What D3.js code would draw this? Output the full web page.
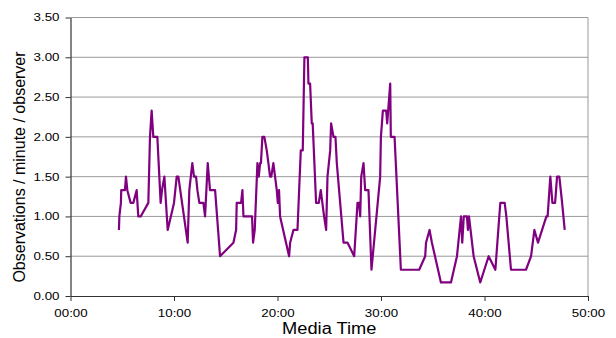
<!DOCTYPE html>
<html>
<head>
<meta charset="utf-8">
<style>
  body { margin: 0; background: #fff; }
  text { font-family: "Liberation Sans", Arial, sans-serif; fill: #000; }
</style>
</head>
<body>
<svg id="chart"></svg>
<script src="https://d3js.org/d3.v7.min.js"></script>
<script>
// media time in minutes
const minutes = [4.68, 4.72, 4.87, 4.9, 5.26, 5.36, 5.49, 5.81, 6.07, 6.39, 6.55, 6.78, 7.52, 7.68, 7.84, 8.0, 8.39,
  8.71, 8.84, 9.07, 9.39, 10.0, 10.26, 10.42, 11.32, 11.48, 11.77, 11.93, 12.13, 12.26, 12.45, 12.84, 13.0, 13.26,
  13.48, 13.97, 14.45, 15.74, 16.0, 16.06, 16.48, 16.61, 16.71, 17.54, 17.64, 17.8, 18.06, 18.19, 18.32, 18.4,
  18.54, 18.73, 18.96, 19.12, 19.28, 19.4, 19.6, 19.93, 20.03, 20.15, 20.25, 21.12, 21.22, 21.54, 21.93, 22.25,
  22.44, 22.6, 22.93, 22.99, 23.15, 23.31, 23.4, 23.73, 23.99, 24.18, 24.5, 24.7, 24.83, 25.09, 25.18, 25.41, 25.6,
  25.73, 26.38, 26.77, 27.41, 27.73, 27.88, 27.99, 28.09, 28.31, 28.47, 28.79, 29.08, 29.92, 29.99, 30.09, 30.18,
  30.5, 30.6, 30.89, 30.95, 31.31, 31.92, 33.69, 34.27, 34.35, 34.69, 34.92, 35.79, 36.76, 37.34, 37.73, 37.85,
  38.0, 38.3, 38.4, 38.5, 38.95, 39.59, 40.4, 41.05, 41.43, 41.53, 41.95, 42.11, 42.56, 44.01, 44.5, 44.82, 45.17,
  45.98, 46.1, 46.36, 46.56, 46.82, 47.01, 47.23, 47.5, 47.75];
const rate = [0.83, 1.0, 1.17, 1.33, 1.33, 1.5, 1.33, 1.17, 1.17, 1.33, 1.0, 1.0, 1.17, 2.0, 2.33, 2.0, 2.0,
  1.17, 1.33, 1.5, 0.83, 1.17, 1.5, 1.5, 0.67, 1.33, 1.67, 1.5, 1.5, 1.33, 1.17, 1.17, 1.0, 1.67,
  1.33, 1.33, 0.5, 0.67, 0.83, 1.17, 1.17, 1.33, 1.0, 1.0, 0.67, 0.83, 1.67, 1.5, 1.67, 1.67,
  2.0, 2.0, 1.83, 1.67, 1.5, 1.5, 1.67, 1.33, 1.17, 1.33, 1.0, 0.5, 0.67, 0.83, 0.83, 1.83,
  1.83, 3.0, 3.0, 2.67, 2.67, 2.17, 2.17, 1.17, 1.17, 1.33, 1.0, 0.83, 1.5, 1.83, 2.17, 2.0, 2.0,
  1.67, 0.67, 0.67, 0.5, 1.17, 1.17, 1.0, 1.5, 1.67, 1.33, 1.33, 0.33, 1.5, 2.0, 2.17, 2.33,
  2.33, 2.17, 2.67, 2.0, 2.0, 0.33, 0.33, 0.5, 0.67, 0.83, 0.67, 0.17, 0.17, 0.5, 1.0, 0.67,
  1.0, 1.0, 0.83, 1.0, 0.5, 0.17, 0.5, 0.33, 1.0, 1.17, 1.17, 1.0, 0.33, 0.33, 0.5, 0.83, 0.67,
  1.0, 1.0, 1.5, 1.17, 1.17, 1.5, 1.5, 1.17, 0.83];

const xTicks = [0, 10, 20, 30, 40, 50];
const xTickLabels = ["00:00", "10:00", "20:00", "30:00", "40:00", "50:00"];
const yTicks = [0, 0.5, 1.0, 1.5, 2.0, 2.5, 3.0, 3.5];

const width = 616, height = 338;
const margin = {top: 17.5, right: 28, bottom: 42, left: 70.5};

const svg = d3.select('#chart').attr('width', width).attr('height', height);

const x = d3.scaleLinear().domain([0, 50]).range([margin.left, width - margin.right]);
const y = d3.scaleLinear().domain([0, 3.5]).range([height - margin.bottom, margin.top]);

// the original text looks stretched sideways
function widen(sel, k) {
  sel.each(function() {
    const len = this.getComputedTextLength();
    d3.select(this).attr('textLength', len * k).attr('lengthAdjust', 'spacingAndGlyphs');
  });
}

// gridlines
svg.append('g')
  .selectAll('line')
  .data(yTicks.slice(1))
  .join('line')
  .attr('x1', x(0)).attr('x2', x(50))
  .attr('y1', d => y(d)).attr('y2', d => y(d))
  .attr('stroke', '#9a9a9a').attr('stroke-width', 1);

// right border
svg.append('line')
  .attr('x1', x(50)).attr('x2', x(50))
  .attr('y1', y(0)).attr('y2', y(3.5))
  .attr('stroke', '#9a9a9a').attr('stroke-width', 1);

// axes
const xAxis = d3.axisBottom(x)
  .tickValues(xTicks)
  .tickFormat((d, i) => xTickLabels[i])
  .tickSizeInner(5).tickSizeOuter(0).tickPadding(9);

const yAxis = d3.axisLeft(y)
  .tickValues(yTicks)
  .tickFormat(d3.format('.2f'))
  .tickSizeInner(5).tickSizeOuter(0).tickPadding(6);

const gx = svg.append('g').attr('transform', `translate(0,${y(0)})`).call(xAxis);
const gy = svg.append('g').attr('transform', `translate(${x(0)},0)`).call(yAxis);

[gx, gy].forEach(g => {
  g.select('.domain').attr('stroke', '#333').attr('stroke-width', 1.2);
  g.selectAll('.tick line').attr('stroke', '#333');
  g.selectAll('.tick text').attr('font-size', 10.5).attr('fill', '#000')
    .attr('font-family', '"Liberation Sans", Arial, sans-serif')
    .call(widen, 1.27);
});

// the data line
const pts = minutes.map((m, i) => [m, rate[i]]);
svg.append('path')
  .datum(pts)
  .attr('fill', 'none')
  .attr('stroke', '#800080')
  .attr('stroke-width', 2.2)
  .attr('stroke-linejoin', 'round')
  .attr('d', d3.line().x(d => x(d[0])).y(d => y(d[1])));

// axis titles
svg.append('text')
  .attr('x', (x(0) + x(50)) / 2).attr('y', 334)
  .attr('text-anchor', 'middle')
  .attr('font-size', 16)
  .text('Media Time')
  .call(widen, 1.14);

svg.append('text')
  .attr('transform', `translate(25,167) rotate(-90)`)
  .attr('text-anchor', 'middle')
  .attr('font-size', 16)
  .text('Observations / minute / observer');
</script>
</body>
</html>
